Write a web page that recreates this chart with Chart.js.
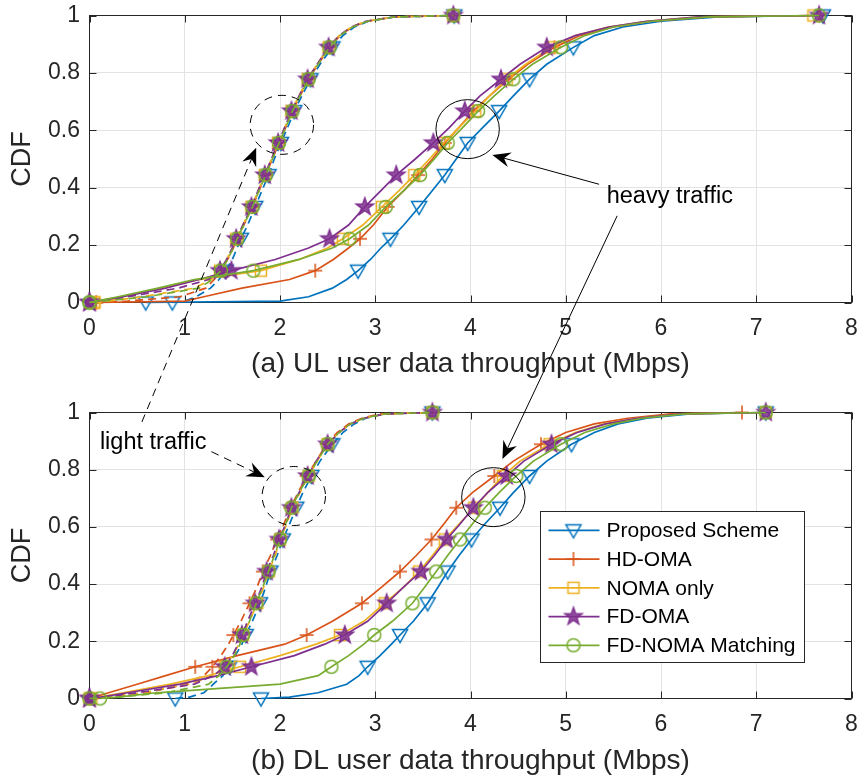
<!DOCTYPE html>
<html>
<head>
<meta charset="utf-8">
<script src="https://cdn.jsdelivr.net/npm/chart.js@4.4.1/dist/chart.umd.min.js"></script>
<style>
  html, body { margin: 0; padding: 0; background: #fff; overflow: hidden; }
  #wrap { position: relative; width: 859px; height: 776px; }
  canvas { position: absolute; left: 0; }
  #ul { top: 0; }
  #dl { top: 397px; }
  #over { top: 0; pointer-events: none; }
</style>
</head>
<body>
<div id="wrap">
  <canvas id="ul" width="859" height="400"></canvas>
  <canvas id="dl" width="859" height="400"></canvas>
  <canvas id="over" width="859" height="776"></canvas>
</div>
<script>
const schemes = ['Proposed Scheme', 'HD-OMA', 'NOMA only', 'FD-OMA', 'FD-NOMA Matching'];
const colors = ['#0072BD', '#D95319', '#EDB120', '#7E2F8E', '#77AC30'];
const markerTypes = ['triangleDown', 'plus', 'square', 'pentagram', 'circle'];

// CDF levels shared by all curves, markers sit on every 1/9 step
const cdfLevels = [0, 0.005, 0.02, 0.05, 0.08, 0.111, 0.15, 0.19, 0.222, 0.27, 0.333, 0.39, 0.444,
  0.5, 0.556, 0.61, 0.667, 0.72, 0.778, 0.83, 0.889, 0.93, 0.96, 0.98, 0.995, 1];
const markerLevels = [0, 0.111, 0.222, 0.333, 0.444, 0.556, 0.667, 0.778, 0.889, 1];

const xTickLabels = ['0', '1', '2', '3', '4', '5', '6', '7', '8'];
const yTickLabels = ['0', '0.2', '0.4', '0.6', '0.8', '1'];

// (a) UL throughput in Mbps at each CDF level, heavy traffic (solid)
const ulHeavyProposed = [0.59, 2.0, 2.3, 2.55, 2.7, 2.82, 2.95, 3.06, 3.16, 3.3, 3.46, 3.6, 3.73, 3.85, 3.97, 4.13, 4.3, 4.45, 4.62, 4.8, 5.08, 5.3, 5.6, 6.0, 6.6, 7.7];
const ulHeavyHdOma = [0.07, 1.0, 1.2, 1.6, 2.1, 2.37, 2.56, 2.72, 2.84, 2.98, 3.13, 3.3, 3.45, 3.6, 3.73, 3.88, 4.03, 4.2, 4.4, 4.6, 4.88, 5.15, 5.5, 5.9, 6.5, 7.66];
const ulHeavyNoma = [0.05, 0.15, 0.35, 0.75, 1.15, 1.8, 2.2, 2.5, 2.66, 2.87, 3.07, 3.25, 3.41, 3.57, 3.72, 3.88, 4.05, 4.2, 4.38, 4.58, 4.85, 5.1, 5.45, 5.85, 6.4, 7.6];
const ulHeavyFdOma = [0, 0.08, 0.35, 0.8, 1.15, 1.49, 1.95, 2.3, 2.52, 2.72, 2.89, 3.06, 3.22, 3.42, 3.61, 3.78, 3.94, 4.1, 4.32, 4.52, 4.8, 5.1, 5.45, 5.85, 6.4, 7.66];
const ulHeavyFdNoma = [0, 0.07, 0.3, 0.72, 1.1, 1.72, 2.2, 2.55, 2.73, 2.93, 3.11, 3.3, 3.47, 3.62, 3.76, 3.92, 4.08, 4.25, 4.45, 4.65, 4.95, 5.2, 5.5, 5.9, 6.5, 7.66];

// (a) UL, light traffic (dashed)
const ulLightProposed = [0.87, 1.0, 1.12, 1.27, 1.36, 1.43, 1.5, 1.55, 1.59, 1.66, 1.74, 1.81, 1.88, 1.94, 2.01, 2.08, 2.15, 2.23, 2.32, 2.42, 2.55, 2.66, 2.78, 2.93, 3.2, 3.83];
const ulLightHdOma = [0.07, 0.4, 0.95, 1.22, 1.31, 1.38, 1.45, 1.51, 1.55, 1.62, 1.71, 1.78, 1.85, 1.92, 1.99, 2.06, 2.13, 2.21, 2.3, 2.4, 2.52, 2.63, 2.76, 2.92, 3.2, 3.82];
const ulLightNoma = [0.05, 0.2, 0.55, 1.1, 1.28, 1.37, 1.44, 1.5, 1.54, 1.61, 1.7, 1.77, 1.84, 1.91, 1.98, 2.05, 2.12, 2.2, 2.29, 2.39, 2.51, 2.62, 2.75, 2.9, 3.2, 3.82];
const ulLightFdOma = [0, 0.1, 0.4, 0.93, 1.25, 1.37, 1.44, 1.5, 1.54, 1.61, 1.7, 1.77, 1.84, 1.91, 1.98, 2.05, 2.12, 2.2, 2.29, 2.39, 2.51, 2.62, 2.75, 2.9, 3.2, 3.82];
const ulLightFdNoma = [0, 0.15, 0.6, 1.15, 1.29, 1.38, 1.45, 1.51, 1.55, 1.62, 1.71, 1.78, 1.85, 1.92, 1.99, 2.06, 2.13, 2.21, 2.3, 2.4, 2.52, 2.63, 2.76, 2.92, 3.2, 3.82];

// (b) DL, heavy traffic (solid)
const dlHeavyProposed = [1.8, 2.1, 2.4, 2.7, 2.83, 2.92, 3.05, 3.17, 3.26, 3.4, 3.55, 3.66, 3.76, 3.88, 4.01, 4.15, 4.31, 4.45, 4.62, 4.8, 5.06, 5.3, 5.55, 5.85, 6.3, 7.1];
const dlHeavyHdOma = [0, 0.05, 0.2, 0.5, 0.8, 1.11, 1.55, 2.05, 2.28, 2.55, 2.86, 3.07, 3.26, 3.43, 3.59, 3.72, 3.85, 4.02, 4.25, 4.45, 4.74, 5.0, 5.3, 5.65, 6.1, 6.85];
const dlHeavyNoma = [0, 0.1, 0.35, 0.85, 1.25, 1.58, 2.0, 2.38, 2.63, 2.88, 3.1, 3.3, 3.46, 3.6, 3.73, 3.88, 4.04, 4.18, 4.34, 4.52, 4.83, 5.1, 5.4, 5.75, 6.2, 7.1];
const dlHeavyFdOma = [0, 0.12, 0.4, 0.95, 1.35, 1.7, 2.15, 2.47, 2.68, 2.92, 3.12, 3.3, 3.48, 3.62, 3.75, 3.89, 4.03, 4.18, 4.38, 4.56, 4.85, 5.12, 5.42, 5.75, 6.2, 7.1];
const dlHeavyFdNoma = [0.11, 0.3, 0.7, 2.0, 2.4, 2.54, 2.72, 2.88, 2.99, 3.18, 3.39, 3.52, 3.64, 3.76, 3.89, 4.02, 4.15, 4.3, 4.48, 4.66, 4.95, 5.2, 5.5, 5.8, 6.25, 7.1];

// (b) DL, light traffic (dashed)
const dlLightProposed = [0.9, 1.05, 1.2, 1.3, 1.4, 1.47, 1.53, 1.6, 1.64, 1.71, 1.79, 1.85, 1.9, 1.97, 2.03, 2.1, 2.17, 2.24, 2.33, 2.42, 2.55, 2.66, 2.78, 2.9, 3.1, 3.6];
const dlLightHdOma = [0.02, 0.2, 0.6, 1.0, 1.2, 1.29, 1.38, 1.46, 1.51, 1.59, 1.68, 1.76, 1.82, 1.9, 1.97, 2.04, 2.11, 2.19, 2.28, 2.38, 2.49, 2.6, 2.72, 2.86, 3.05, 3.6];
const dlLightNoma = [0.02, 0.2, 0.55, 1.05, 1.3, 1.42, 1.5, 1.57, 1.61, 1.68, 1.76, 1.83, 1.88, 1.95, 2.0, 2.07, 2.13, 2.21, 2.3, 2.39, 2.5, 2.62, 2.74, 2.88, 3.1, 3.6];
const dlLightFdOma = [0, 0.15, 0.5, 1.1, 1.3, 1.42, 1.5, 1.56, 1.6, 1.66, 1.74, 1.81, 1.86, 1.93, 1.99, 2.06, 2.12, 2.2, 2.29, 2.38, 2.5, 2.62, 2.74, 2.88, 3.1, 3.6];
const dlLightFdNoma = [0, 0.3, 0.8, 1.25, 1.36, 1.44, 1.52, 1.58, 1.61, 1.68, 1.75, 1.82, 1.88, 1.94, 2.0, 2.06, 2.12, 2.2, 2.3, 2.39, 2.5, 2.62, 2.74, 2.88, 3.1, 3.6];

const ulHeavy = [ulHeavyProposed, ulHeavyHdOma, ulHeavyNoma, ulHeavyFdOma, ulHeavyFdNoma];
const ulLight = [ulLightProposed, ulLightHdOma, ulLightNoma, ulLightFdOma, ulLightFdNoma];
const dlHeavy = [dlHeavyProposed, dlHeavyHdOma, dlHeavyNoma, dlHeavyFdOma, dlHeavyFdNoma];
const dlLight = [dlLightProposed, dlLightHdOma, dlLightNoma, dlLightFdOma, dlLightFdNoma];

const FONT = '"Liberation Sans", Arial, Helvetica, sans-serif';
const TEXT = '#262626';
Chart.defaults.font.family = FONT;

// marker glyphs, MATLAB style
function makeMarker(type, color) {
  const c = document.createElement('canvas');
  c.width = 24; c.height = 24;
  const g = c.getContext('2d');
  g.strokeStyle = color;
  g.fillStyle = color;
  g.lineWidth = 1.5;
  g.translate(12, 12);
  g.beginPath();
  if (type === 'triangleDown') {
    g.moveTo(-7.5, -5.5); g.lineTo(7.5, -5.5); g.lineTo(0, 7.5); g.closePath();
    g.stroke();
  } else if (type === 'plus') {
    g.moveTo(-7, 0); g.lineTo(7, 0); g.moveTo(0, -7); g.lineTo(0, 7);
    g.stroke();
  } else if (type === 'square') {
    g.rect(-5.5, -5.5, 11, 11);
    g.stroke();
  } else if (type === 'pentagram') {
    for (let k = 0; k < 10; k++) {
      const r = k % 2 ? 3.6 : 9;
      const a = -Math.PI / 2 + k * Math.PI / 5;
      if (k === 0) g.moveTo(r * Math.cos(a), r * Math.sin(a));
      else g.lineTo(r * Math.cos(a), r * Math.sin(a));
    }
    g.closePath();
    g.globalAlpha = 0.85; g.fill();
    g.globalAlpha = 1; g.stroke();
  } else {
    g.arc(0, 0, 6.5, 0, Math.PI * 2);
    g.stroke();
  }
  return c;
}
const markerImgs = markerTypes.map((t, i) => makeMarker(t, colors[i]));

function buildDatasets(heavy, light) {
  const sets = [];
  for (let i = 0; i < schemes.length; i++) {
    [[heavy[i], []], [light[i], [8, 5]]].forEach(([xs, dash]) => {
      sets.push({
        label: schemes[i],
        data: cdfLevels.map((y, k) => ({ x: xs[k], y: y })),
        borderColor: colors[i],
        borderWidth: 1.7,
        borderDash: dash,
        pointStyle: markerImgs[i],
        pointRadius: ctx => markerLevels.includes(cdfLevels[ctx.dataIndex]) ? 6 : 0,
        fill: false,
        tension: 0,
        clip: false
      });
    });
  }
  // first dataset at the bottom, last (green) on top
  sets.forEach((s, k) => { s.order = sets.length - k; });
  return sets;
}

// box around the axes with inward ticks
const boxPlugin = {
  id: 'matlabBox',
  beforeDatasetsDraw(chart) {
    const { ctx, chartArea: a, scales: { x, y } } = chart;
    ctx.save();
    ctx.strokeStyle = TEXT;
    ctx.lineWidth = 1;
    ctx.strokeRect(a.left, a.top, a.right - a.left, a.bottom - a.top);
    ctx.beginPath();
    x.ticks.forEach(t => {
      const px = Math.round(x.getPixelForValue(t.value)) + 0.5;
      ctx.moveTo(px, a.bottom); ctx.lineTo(px, a.bottom - 7);
      ctx.moveTo(px, a.top); ctx.lineTo(px, a.top + 7);
    });
    y.ticks.forEach(t => {
      const py = Math.round(y.getPixelForValue(t.value)) + 0.5;
      ctx.moveTo(a.left, py); ctx.lineTo(a.left + 7, py);
      ctx.moveTo(a.right, py); ctx.lineTo(a.right - 7, py);
    });
    ctx.stroke();
    ctx.restore();
  }
};

// legend box inside the DL axes
const legendPlugin = {
  id: 'matlabLegend',
  afterDatasetsDraw(chart) {
    const { ctx, chartArea: a } = chart;
    const right = a.right - 47, bottom = a.bottom - 36;
    const w = 264, h = 151;
    const left = right - w, top = bottom - h;
    ctx.save();
    ctx.fillStyle = '#fff';
    ctx.fillRect(left, top, w, h);
    ctx.strokeStyle = TEXT;
    ctx.lineWidth = 1;
    ctx.strokeRect(left, top, w, h);
    ctx.font = '21px ' + FONT;
    ctx.textBaseline = 'middle';
    ctx.textAlign = 'left';
    schemes.forEach((name, i) => {
      const cy = top + 18.8 + i * 28.75;
      ctx.strokeStyle = colors[i];
      ctx.lineWidth = 1.7;
      ctx.beginPath();
      ctx.moveTo(left + 8, cy); ctx.lineTo(left + 59, cy);
      ctx.stroke();
      ctx.drawImage(markerImgs[i], left + 33 - 12, cy - 12);
      ctx.fillStyle = '#000';
      ctx.fillText(name, left + 66, cy + 1);
    });
    ctx.restore();
  }
};

// wanted plot box inside each 859x400 canvas
const areaUL = { left: 89.5, right: 851.5, top: 15.5, bottom: 302.5 };
const areaDL = { left: 89.5, right: 851.5, top: 15.5, bottom: 301.5 };

// the tick labels must not push the plot box inward
function noEdgePadding(s) {
  s.paddingLeft = 0; s.paddingRight = 0; s.paddingTop = 0; s.paddingBottom = 0;
}

function makeOptions(title, area, fit) {
  fit.xh = 400 - area.bottom;
  fit.yw = area.left;
  return {
    responsive: false,
    animation: false,
    events: [],
    layout: { autoPadding: false, padding: { left: 0, right: 859 - area.right, top: area.top, bottom: 0 } },
    plugins: { legend: { display: false }, tooltip: { enabled: false } },
    scales: {
      x: {
        type: 'linear', min: 0, max: 8,
        ticks: {
          stepSize: 1, padding: 15, color: TEXT, maxRotation: 0,
          font: { size: 23, lineHeight: 1 },
          callback: (v, i) => xTickLabels[i]
        },
        grid: { color: '#e3e3e3', drawTicks: false },
        border: { display: false },
        title: {
          display: true, text: title, color: TEXT,
          font: { size: 28, lineHeight: 1 }, padding: { top: 0, bottom: 22 }
        },
        afterFit: s => { s.height = fit.xh; noEdgePadding(s); }
      },
      y: {
        type: 'linear', min: 0, max: 1,
        ticks: {
          stepSize: 0.2, padding: 9.5, color: TEXT,
          font: { size: 23, lineHeight: 1 },
          callback: (v, i) => yTickLabels[i]
        },
        grid: { color: '#e3e3e3', drawTicks: false },
        border: { display: false },
        title: {
          display: true, text: 'CDF', color: TEXT,
          font: { size: 27, lineHeight: 1 }, padding: { top: 9.5, bottom: 0 }
        },
        afterFit: s => { s.width = fit.yw; noEdgePadding(s); }
      }
    }
  };
}

// nudge padding until the plot box sits where it should
function settle(chart, area, fit) {
  for (let k = 0; k < 5; k++) {
    const a = chart.chartArea;
    const dt = a.top - area.top, dl = a.left - area.left;
    const dr = area.right - a.right, db = area.bottom - a.bottom;
    if (Math.abs(dt) + Math.abs(dl) + Math.abs(dr) + Math.abs(db) < 0.1) break;
    const p = chart.options.layout.padding;
    chart.options.layout.padding = { left: p.left, bottom: p.bottom, top: p.top - dt, right: p.right - dr };
    fit.yw -= dl;
    fit.xh -= db;
    chart.update();
  }
}

const fitUL = {}, fitDL = {};
const ulChart = new Chart(document.getElementById('ul'), {
  type: 'line',
  data: { datasets: buildDatasets(ulHeavy, ulLight) },
  options: makeOptions('(a) UL user data throughput (Mbps)', areaUL, fitUL),
  plugins: [boxPlugin]
});
settle(ulChart, areaUL, fitUL);

const dlChart = new Chart(document.getElementById('dl'), {
  type: 'line',
  data: { datasets: buildDatasets(dlHeavy, dlLight) },
  options: makeOptions('(b) DL user data throughput (Mbps)', areaDL, fitDL),
  plugins: [boxPlugin, legendPlugin]
});
settle(dlChart, areaDL, fitDL);

// annotations spanning both axes
const g = document.getElementById('over').getContext('2d');
const charts = { ul: [ulChart, 0], dl: [dlChart, 397] };
function toPage(which, xv, yv) {
  const [c, off] = charts[which];
  return [c.scales.x.getPixelForValue(xv), off + c.scales.y.getPixelForValue(yv)];
}

function arrow(p0, p1, dashed) {
  const ang = Math.atan2(p1[1] - p0[1], p1[0] - p0[0]);
  const cos = Math.cos(ang), sin = Math.sin(ang);
  const L = 18, W = 7.5, notch = 12;
  g.setLineDash(dashed ? [8, 6] : []);
  g.beginPath();
  g.moveTo(p0[0], p0[1]);
  g.lineTo(p1[0] - notch * cos, p1[1] - notch * sin);
  g.stroke();
  g.setLineDash([]);
  g.beginPath();
  [[0, 0], [-L, W], [-notch, 0], [-L, -W]].forEach(([u, v], i) => {
    const X = p1[0] + u * cos - v * sin, Y = p1[1] + u * sin + v * cos;
    if (i === 0) g.moveTo(X, Y); else g.lineTo(X, Y);
  });
  g.closePath();
  g.fill();
}

function ring(p, dashed) {
  g.setLineDash(dashed ? [8, 6] : []);
  g.beginPath();
  g.ellipse(p[0], p[1], 31.7, 29.5, 0, 0, Math.PI * 2);
  g.stroke();
  g.setLineDash([]);
}

g.strokeStyle = '#000';
g.fillStyle = '#000';
g.lineWidth = 1;
ring(toPage('ul', 2.02, 0.619), true);
ring(toPage('ul', 3.97, 0.604), false);
ring(toPage('dl', 2.145, 0.708), true);
ring(toPage('dl', 4.24, 0.704), false);

arrow(toPage('ul', 5.35, 0.412), toPage('ul', 4.23, 0.514), false);
arrow(toPage('ul', 5.54, 0.302), toPage('dl', 4.335, 0.837), false);
arrow(toPage('dl', 0.55, 0.967), toPage('ul', 1.75, 0.539), true);
arrow(toPage('dl', 1.28, 0.863), toPage('dl', 1.84, 0.774), true);

g.font = '23.5px ' + FONT;
g.textBaseline = 'middle';
g.textAlign = 'left';
let p = toPage('ul', 5.43, 0.371);
g.fillText('heavy traffic', p[0], p[1]);
p = toPage('dl', 0.109, 0.894);
g.fillText('light traffic', p[0], p[1]);
</script>
</body>
</html>
